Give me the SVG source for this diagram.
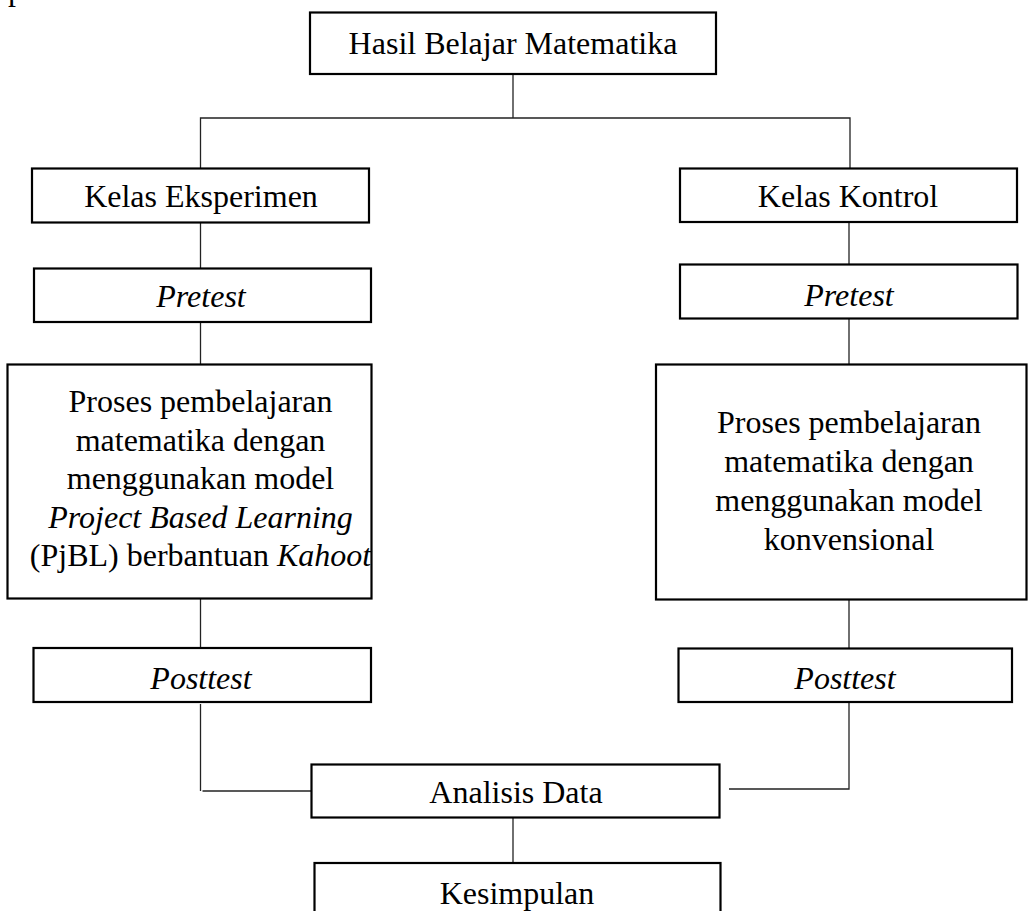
<svg xmlns="http://www.w3.org/2000/svg" width="1028" height="911" viewBox="0 0 1028 911">
<style>
.box{fill:#fff;stroke:#000;stroke-width:2.2}
.t{font-family:"Liberation Serif","Times New Roman",serif;font-size:32px;fill:#000;text-anchor:middle}
.i{font-style:italic}
.c{fill:none;stroke:#222;stroke-width:1.3}
</style>
<rect width="1028" height="911" fill="#fff"/>
<text x="8" y="0" font-family="Liberation Serif, serif" font-size="32" fill="#000">p</text>
<g id="connectors">
<polyline class="c" points="513,74 513,118"/>
<polyline class="c" points="200.5,168 200.5,118 850,118 850,168"/>
<polyline class="c" points="200.5,223 200.5,268"/>
<polyline class="c" points="849,222 849,264"/>
<polyline class="c" points="200.5,322 200.5,364"/>
<polyline class="c" points="849,318 849,364"/>
<polyline class="c" points="200.5,599 200.5,648"/>
<polyline class="c" points="849,600 849,648"/>
<polyline class="c" points="200.5,704 200.5,791"/>
<polyline class="c" points="202.5,791 311.5,791"/>
<polyline class="c" points="849,703 849,789 729,789"/>
<polyline class="c" points="513,818 513,863"/>
</g>
<g id="hasil">
<rect class="box" x="310" y="12.5" width="406" height="61.5"/>
<text class="t" x="513" y="54">Hasil Belajar Matematika</text>
</g>
<g id="kelas-eksperimen">
<rect class="box" x="32" y="168.5" width="337" height="54"/>
<text class="t" x="201" y="207">Kelas Eksperimen</text>
</g>
<g id="kelas-kontrol">
<rect class="box" x="680" y="168.5" width="337" height="53.5"/>
<text class="t" x="848" y="207">Kelas Kontrol</text>
</g>
<g id="pretest-eksperimen">
<rect class="box" x="34" y="268.5" width="337" height="53.5"/>
<text class="t i" x="201" y="307">Pretest</text>
</g>
<g id="pretest-kontrol">
<rect class="box" x="680" y="264.5" width="337.5" height="54"/>
<text class="t i" x="849" y="306">Pretest</text>
</g>
<g id="proses-eksperimen">
<rect class="box" x="7.5" y="364.5" width="364" height="234"/>
<text class="t" x="200.5" y="412">Proses pembelajaran</text>
<text class="t" x="200.5" y="450.5">matematika dengan</text>
<text class="t" x="200.5" y="489">menggunakan model</text>
<text class="t i" x="200.5" y="527.5">Project Based Learning</text>
<text class="t" x="200.5" y="566">(PjBL) berbantuan <tspan class="i">Kahoot</tspan></text>
</g>
<g id="proses-kontrol">
<rect class="box" x="656" y="364.5" width="370.5" height="235"/>
<text class="t" x="849" y="433">Proses pembelajaran</text>
<text class="t" x="849" y="472">matematika dengan</text>
<text class="t" x="849" y="511">menggunakan model</text>
<text class="t" x="849" y="550">konvensional</text>
</g>
<g id="posttest-eksperimen">
<rect class="box" x="33.5" y="648" width="337.5" height="54"/>
<text class="t i" x="201" y="689">Posttest</text>
</g>
<g id="posttest-kontrol">
<rect class="box" x="678.5" y="648.5" width="333.5" height="53.5"/>
<text class="t i" x="845" y="689">Posttest</text>
</g>
<g id="analisis">
<rect class="box" x="311.5" y="764.5" width="408" height="53"/>
<text class="t" x="516" y="803">Analisis Data</text>
</g>
<g id="kesimpulan">
<rect class="box" x="314.5" y="863" width="406" height="54"/>
<text class="t" x="517" y="904">Kesimpulan</text>
</g>
</svg>
